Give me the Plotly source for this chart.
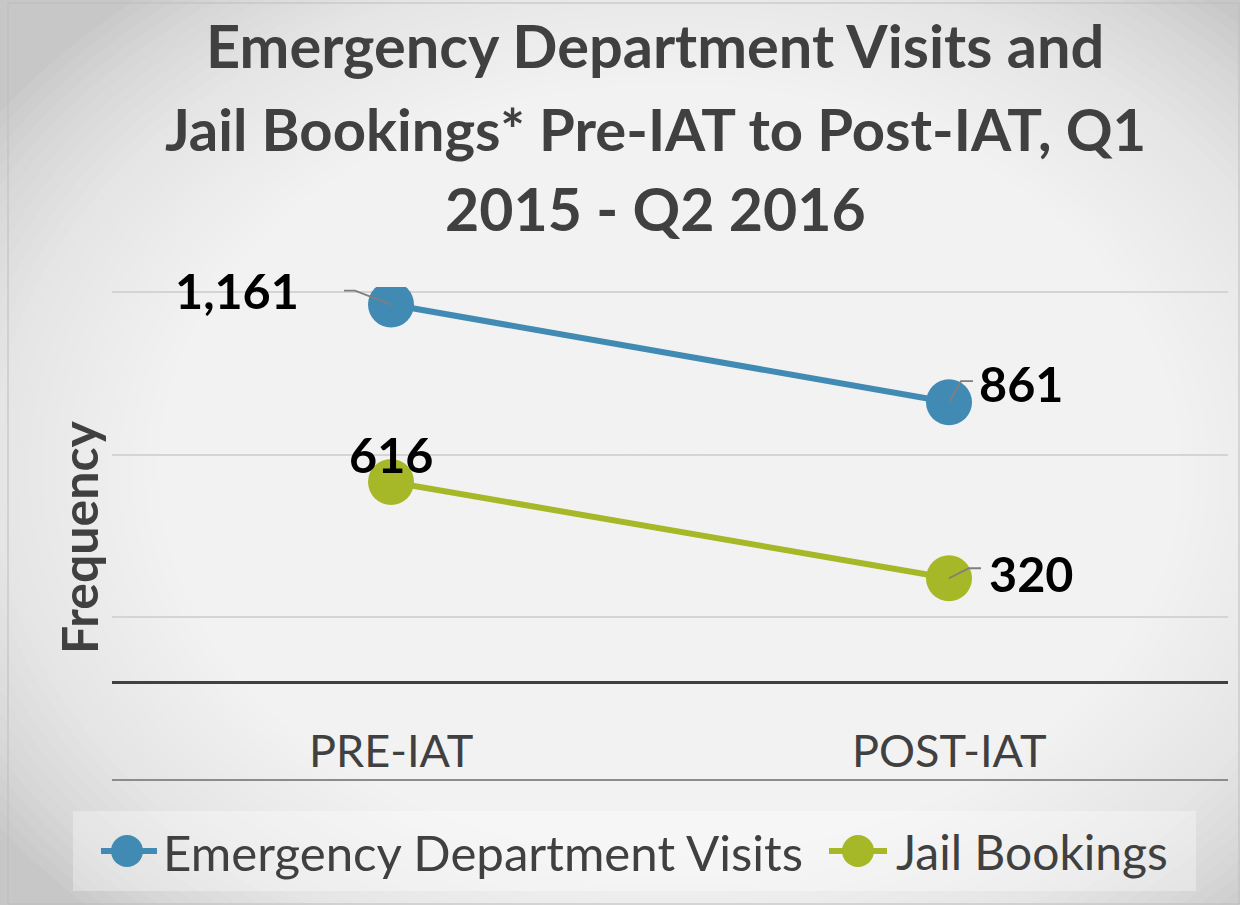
import plotly.graph_objects as go

# ---------------- data ----------------
categories = ["PRE-IAT", "POST-IAT"]
series_names = ["Emergency Department Visits", "Jail Bookings"]
ed_visits = [1161, 861]
jail_bookings = [616, 320]
series_values = [ed_visits, jail_bookings]
series_colors = ["#418AB3", "#A6B727"]
title_lines = ["Emergency Department Visits and",
               "Jail Bookings* Pre-IAT to Post-IAT, Q1",
               "2015 - Q2 2016"]
y_title = "Frequency"

# ---------------- geometry helpers ----------------
WIDTH, HEIGHT = 1240, 905
L, R, T, B = 112, 1228, 287, 780
PW, PH = R - L, B - T


def px(x):
    return (x - L) / PW


def py(y):
    return (B - y) / PH


FONT = "Lato"
fig = go.Figure()

for name, vals, col in zip(series_names, series_values, series_colors):
    fig.add_trace(go.Scatter(
        x=categories, y=vals, name=name, mode="lines+markers",
        line=dict(color=col, width=6),
        marker=dict(color=col, size=46),
        showlegend=False, hoverinfo="x+y+name"))

shapes = []
# radial-like background gradient
N = 64
cx, cy, RX, RY = 670, 470, 820, 620
for i in range(N):
    s = 1 - i / N
    shapes.append(dict(type="circle", xref="paper", yref="paper",
                       x0=px(cx - RX * s), x1=px(cx + RX * s),
                       y0=py(cy + RY * s), y1=py(cy - RY * s),
                       fillcolor="white", opacity=0.072, line=dict(width=0),
                       layer="below"))

# chart border
shapes.append(dict(type="rect", xref="paper", yref="paper",
                   x0=px(8), x1=px(1239), y0=py(904), y1=py(3),
                   line=dict(color="#bdbdbd", width=1), fillcolor="rgba(0,0,0,0)",
                   layer="below"))

# bottom boundary line of plot area
shapes.append(dict(type="line", xref="paper", yref="paper", x0=0, x1=1, y0=0, y1=0,
                   line=dict(color="#8c8c8c", width=2), layer="below"))

# leader lines (pixel offsets anchored on data points)
leaders = [
    (categories[0], ed_visits[0], "M0,0 L-36,14 L-47,14"),
    (categories[1], ed_visits[1], "M0,0 L12,21 L24,21"),
    (categories[1], jail_bookings[1], "M0,0 L20,10 L32,10"),
]
for xc, yv, path in leaders:
    shapes.append(dict(type="path", xref="x", yref="y", xsizemode="pixel", ysizemode="pixel",
                       xanchor=xc, yanchor=yv, path=path,
                       line=dict(color="#7f7f7f", width=1.8), layer="above"))

# custom legend box and icons
shapes.append(dict(type="rect", xref="paper", yref="paper",
                   x0=px(73), x1=px(1196), y0=py(891), y1=py(811),
                   fillcolor="rgba(255,255,255,0.32)", line=dict(width=0), layer="below"))
legend_icons = [(101, 157, 127), (829, 887, 858)]
for (lx0, lx1, mc), col in zip(legend_icons, series_colors):
    shapes.append(dict(type="line", xref="paper", yref="paper",
                       x0=px(lx0), x1=px(lx1), y0=py(851), y1=py(851),
                       line=dict(color=col, width=6), layer="above"))
    shapes.append(dict(type="circle", xref="paper", yref="paper",
                       x0=px(mc - 16), x1=px(mc + 16), y0=py(867), y1=py(835),
                       fillcolor=col, line=dict(width=0), layer="above"))

annotations = []
# title
title_y = [45, 128, 209]
title_sizes = [59.5, 58, 59]
for txt, yy, fs in zip(title_lines, title_y, title_sizes):
    annotations.append(dict(text=f"<b>{txt}</b>", xref="paper", yref="paper",
                            x=px(655), y=py(yy), xanchor="center", yanchor="middle",
                            showarrow=False, font=dict(family=FONT, size=fs, color="#404040")))
# y-axis title
annotations.append(dict(text=f"<b>{y_title}</b>", xref="paper", yref="paper",
                        x=px(79), y=py(538), xanchor="center", yanchor="middle",
                        textangle=-90, showarrow=False,
                        font=dict(family=FONT, size=50, color="#404040")))
# category labels inside plot area
for c in categories:
    annotations.append(dict(text=c, xref="x", yref="y", x=c, y=-207,
                            xanchor="center", yanchor="middle", showarrow=False,
                            font=dict(family=FONT, size=45, color="#404040")))
# data labels
label_pos = [
    [dict(xanchor="right", xshift=-90, yshift=15), dict(xanchor="left", xshift=28, yshift=19)],
    [dict(xanchor="center", xshift=0, yshift=28), dict(xanchor="left", xshift=38, yshift=5)],
]
for vals, poss in zip(series_values, label_pos):
    for c, v, p in zip(categories, vals, poss):
        annotations.append(dict(text=f"<b>{v:,}</b>", xref="x", yref="y", x=c, y=v,
                                yanchor="middle", showarrow=False,
                                font=dict(family=FONT, size=48.5, color="#000000"), **p))
# legend text
legend_text_x = [161, 894]
legend_text_size = [49.2, 48]
for name, tx, fs in zip(series_names, legend_text_x, legend_text_size):
    annotations.append(dict(text=name, xref="paper", yref="paper", x=px(tx), y=py(851),
                            xanchor="left", yanchor="middle", showarrow=False,
                            font=dict(family=FONT, size=fs, color="#404040")))

fig.update_layout(
    width=WIDTH, height=HEIGHT,
    margin=dict(l=L, r=WIDTH - R, t=T, b=HEIGHT - B, autoexpand=False),
    paper_bgcolor="#c7c7c7", plot_bgcolor="rgba(0,0,0,0)",
    showlegend=False,
    shapes=shapes, annotations=annotations,
    xaxis=dict(type="category", range=[-0.5, 1.5], showgrid=False, showticklabels=False,
               zeroline=False, showline=False, ticks=""),
    yaxis=dict(range=[-300, 1215], tick0=-300, dtick=500, showgrid=True,
               gridcolor="#d4d4d4", gridwidth=2, showticklabels=False, ticks="",
               zeroline=True, zerolinecolor="#404040", zerolinewidth=3, showline=False),
    font=dict(family=FONT),
)

fig.write_html("out.html", config={"displayModeBar": False},
               post_script="document.body.style.margin='0';")
